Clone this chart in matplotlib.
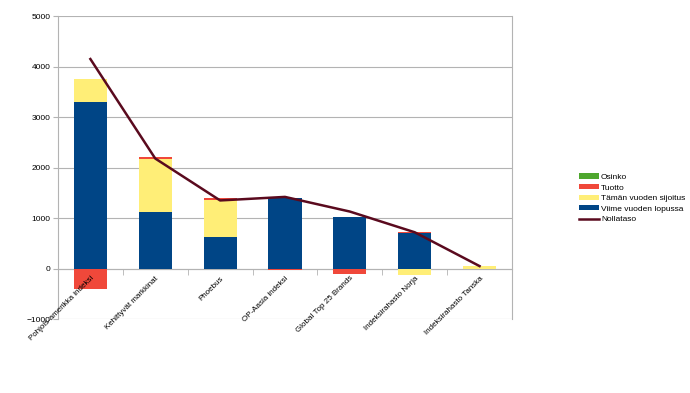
import numpy as np
import matplotlib.pyplot as plt

plt.rcParams['font.family'] = ['Liberation Sans', 'DejaVu Sans']

categories = ['Pohjois-amerikka indeksi', 'Kehittyvät markkinat', 'Phoebus',
              'OP-Aasia indeksi', 'Global Top 25 Brands', 'Indeksirahasto Norja',
              'Indeksirahasto Tanska']
viime = [3300, 1120, 630, 1390, 1030, 700, 0]
taman = [450, 1060, 730, 0, 0, -130, 50]
tuotto = [-410, 40, 45, -20, -115, 30, 0]
osinko = [0, 0, 0, 0, 0, 0, 0]
nollataso = [4150, 2180, 1350, 1420, 1130, 720, 50]

colors = {'Viime vuoden lopussa': '#004586',
          'Tämän vuoden sijoitus': '#ffee77',
          'Tuotto': '#f0483a',
          'Osinko': '#4ea72e'}

fig = plt.figure(figsize=(6.9, 3.93), dpi=100)
ax = fig.add_axes([0.084, 0.188, 0.658, 0.771])

x = np.arange(len(categories))
pos_bottom = np.zeros(len(x))
neg_bottom = np.zeros(len(x))
handles = {}
for name, vals in [('Viime vuoden lopussa', viime), ('Tämän vuoden sijoitus', taman),
                   ('Tuotto', tuotto), ('Osinko', osinko)]:
    vals = np.array(vals, dtype=float)
    bottom = np.where(vals >= 0, pos_bottom, neg_bottom)
    h = ax.bar(x, vals, 0.51, bottom=bottom, color=colors[name], label=name, zorder=3)
    handles[name] = h
    pos_bottom += np.where(vals >= 0, vals, 0)
    neg_bottom += np.where(vals < 0, vals, 0)

line, = ax.plot(x, nollataso, color='#5a0a1e', lw=1.8, zorder=4, label='Nollataso')

ax.set_xlim(-0.5, len(x) - 0.5)
ax.set_ylim(-1000, 5000)
ax.set_yticks(range(-1000, 5001, 1000))
ax.yaxis.grid(True, color='#b3b3b3', lw=0.8, zorder=0)
ax.tick_params(axis='y', labelsize=6, length=3.5, color='#b3b3b3', pad=2)

for s in ['top', 'left', 'right']:
    ax.spines[s].set_color('#b3b3b3')
ax.spines['top'].set_visible(False)
ax.spines['bottom'].set_position(('data', 0))
ax.spines['bottom'].set_color('#b3b3b3')
ax.spines['bottom'].set_zorder(2)

ax.set_xticks(x)
ax.set_xticklabels(categories, rotation=45, ha='right', rotation_mode='anchor', fontsize=5.8)
ax.set_xticks(np.arange(0.5, len(x) - 1, 1), minor=True)
ax.tick_params(axis='x', which='major', length=0, pad=4.5)
ax.tick_params(axis='x', which='minor', length=4, color='#b3b3b3')
# labels drawn over the bars, like in the original
ax.xaxis.set_zorder(5)

order = ['Osinko', 'Tuotto', 'Tämän vuoden sijoitus', 'Viime vuoden lopussa']
leg = fig.legend([handles[n] for n in order] + [line], order + ['Nollataso'],
                 loc='center left', bbox_to_anchor=(0.828, 0.495), frameon=False,
                 fontsize=6, handlelength=2.4, handleheight=0.55, labelspacing=0.38,
                 handletextpad=0.25)

fig.savefig('out.png', dpi=100)
